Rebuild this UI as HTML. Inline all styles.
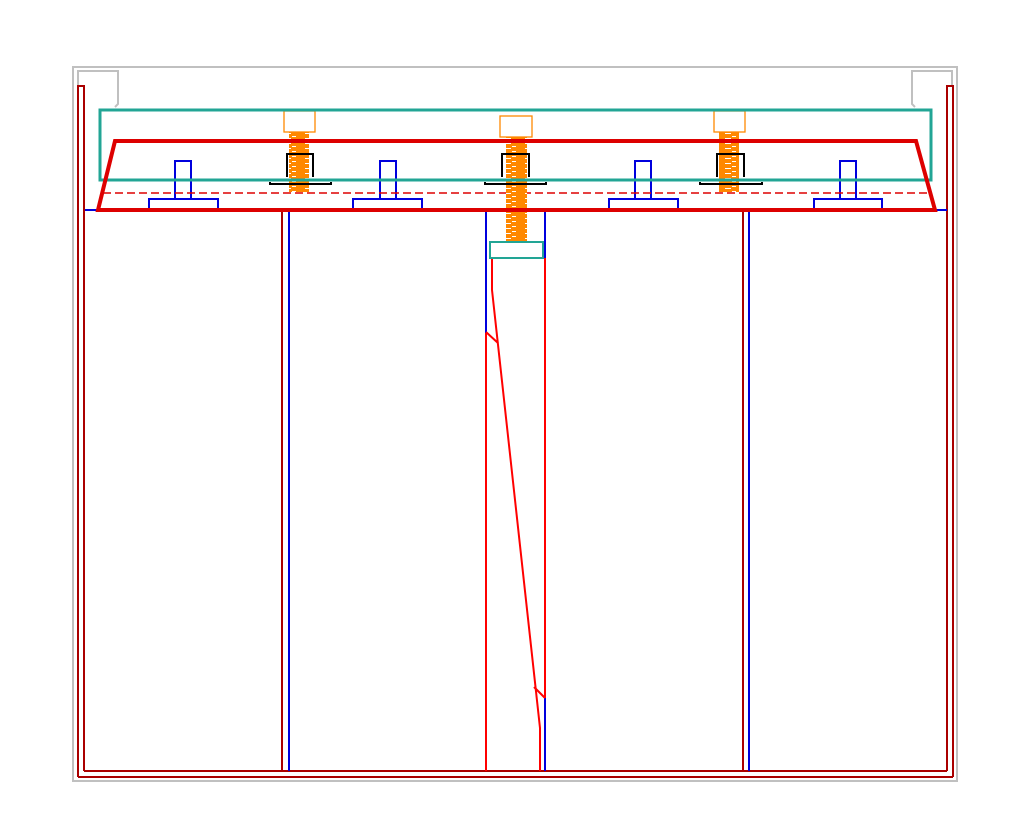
<!DOCTYPE html>
<html><head><meta charset="utf-8"><style>html,body{margin:0;padding:0;background:#fff}</style></head>
<body>
<svg width="1031" height="834" viewBox="0 0 1031 834" xmlns="http://www.w3.org/2000/svg">
<defs>
<pattern id="thr" width="20" height="5" patternUnits="userSpaceOnUse">
<rect width="20" height="5" fill="#ff8800"/>
<rect x="5" y="3" width="6" height="1" fill="#fff"/>
<rect x="12" y="1" width="4" height="1" fill="#fff"/>
</pattern>
</defs>
<g fill="none" stroke="#c0c0c0" stroke-width="2">
<rect x="73" y="67" width="884" height="714"/>
<polyline points="115,107 118,104 118,71 78,71 78,86"/>
<polyline points="915,107 912,104 912,71 952,71 952,86"/>
</g>
<g fill="none" stroke="#aa0000" stroke-width="2">
<polyline points="78,777 78,86 84,86 84,771"/>
<polyline points="953,777 953,86 947,86 947,771"/>
<line x1="78" y1="777" x2="953" y2="777"/>
<line x1="84" y1="771" x2="947" y2="771"/>
<line x1="282" y1="210" x2="282" y2="771"/>
<line x1="743" y1="210" x2="743" y2="771"/>
</g>
<g fill="none" stroke="#0000dd" stroke-width="2">
<line x1="85" y1="210" x2="947" y2="210"/>
<line x1="289" y1="210" x2="289" y2="771"/>
<line x1="749" y1="210" x2="749" y2="771"/>
<line x1="486" y1="210" x2="486" y2="333"/>
<line x1="545" y1="210" x2="545" y2="258"/>
<line x1="545" y1="698" x2="545" y2="771"/>
<polyline points="175,199 175,161 191,161 191,199"/><polyline points="149,210 149,199 218,199 218,210"/>
<polyline points="380,199 380,161 396,161 396,199"/><polyline points="353,210 353,199 422,199 422,210"/>
<polyline points="635,199 635,161 651,161 651,199"/><polyline points="609,210 609,199 678,199 678,210"/>
<polyline points="840,199 840,161 856,161 856,199"/><polyline points="814,210 814,199 882,199 882,210"/>
</g>
<g fill="none" stroke="#ff0000" stroke-width="2">
<line x1="486" y1="333" x2="486" y2="771"/>
<line x1="545" y1="258" x2="545" y2="698"/>
<polyline points="492,258 492,290 540,728 540,771"/>
<line x1="486" y1="332" x2="498" y2="343"/>
<line x1="534" y1="687" x2="545" y2="698"/>
</g>
<line x1="103" y1="193" x2="928" y2="193" stroke="#dd0000" stroke-width="1.5" stroke-dasharray="8,4"/>
<g>
<rect x="289" y="132" width="20" height="60" fill="url(#thr)"/>
<rect x="284" y="111" width="31" height="21" fill="#fff" stroke="#ff8800" stroke-width="1.3"/>
<rect x="506" y="137" width="21" height="105" fill="url(#thr)"/>
<rect x="500" y="116" width="32" height="21" fill="#fff" stroke="#ff8800" stroke-width="1.3"/>
<rect x="719" y="132" width="20" height="60" fill="url(#thr)"/>
<rect x="714" y="111" width="31" height="21" fill="#fff" stroke="#ff8800" stroke-width="1.3"/>
</g>
<g fill="none" stroke="#000" stroke-width="2">
<polyline points="287,177 287,154 313,154 313,177"/><polyline points="270,182 270,184 331,184 331,182"/>
<polyline points="502,177 502,154 529,154 529,177"/><polyline points="485,182 485,184 546,184 546,182"/>
<polyline points="717,177 717,154 744,154 744,177"/><polyline points="700,182 700,184 762,184 762,182"/>
</g>
<rect x="100" y="110" width="831" height="70" fill="none" stroke="#22a595" stroke-width="3"/>
<rect x="490" y="242" width="53" height="16" fill="#fff" stroke="#22a595" stroke-width="2"/>
<polygon points="115,141 916,141 935,210 98,210" fill="none" stroke="#dd0000" stroke-width="4"/>
</svg>
</body></html>
